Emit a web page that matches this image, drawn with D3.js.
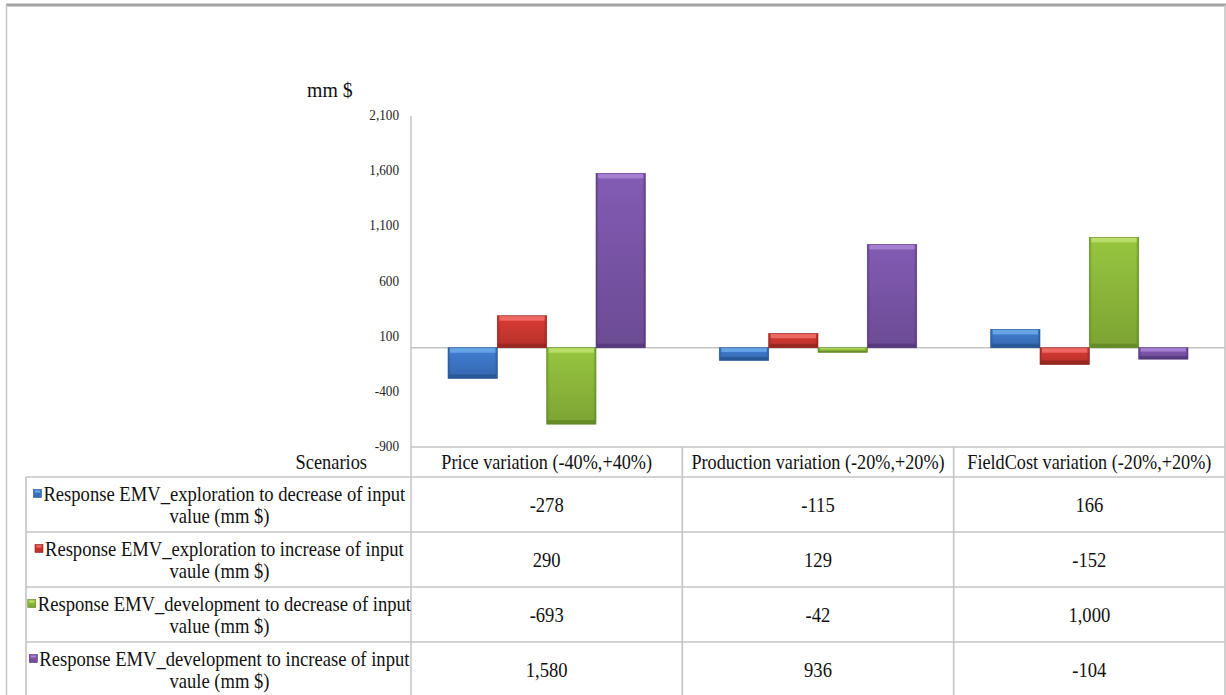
<!DOCTYPE html>
<html><head><meta charset="utf-8">
<script src="https://cdn.jsdelivr.net/npm/d3@7"></script>
<style>
html,body{margin:0;padding:0;background:#fff;}
svg{display:block;}
svg text{font-family:"Liberation Serif","DejaVu Serif",serif;}
</style></head>
<body>
<svg id="chart" width="1226" height="695"></svg>
<script>
// ---- data ----
const categories = ["Price variation (-40%,+40%)", "Production variation (-20%,+20%)", "FieldCost variation (-20%,+20%)"];
const seriesLine1 = [
  "Response EMV_exploration to decrease of input",
  "Response EMV_exploration to increase of input",
  "Response EMV_development to decrease of input",
  "Response EMV_development to increase of input"
];
const seriesLine2 = ["value (mm $)", "vaule (mm $)", "value (mm $)", "vaule (mm $)"];
const expDecrease = [-278, -115, 166];
const expIncrease = [290, 129, -152];
const devDecrease = [-693, -42, 1000];
const devIncrease = [1580, 936, -104];
const yTicks = [2100, 1600, 1100, 600, 100, -400, -900];
const yDomain = [-900, 2100];
const yTitle = "mm $";
const xTitle = "Scenarios";

const seriesValues = [expDecrease, expIncrease, devDecrease, devIncrease];
const seriesIds = ["s0", "s1", "s2", "s3"];
const palette = [
  {base:"#3b74c2", light:"#6aa8e8", dark:"#23518f"},
  {base:"#c8362f", light:"#ee6e66", dark:"#8c221d"},
  {base:"#8ab53a", light:"#bde06a", dark:"#5d8222"},
  {base:"#7853a5", light:"#a884d4", dark:"#4f3373"}
];
const FONT = "'Liberation Serif','Times New Roman','DejaVu Serif',serif";

const loc = d3.formatLocale({decimal:".", thousands:",", grouping:[3], currency:["$",""], minus:"-"});
const fmt = loc.format(",");

const svg = d3.select("#chart");
const defs = svg.append("defs");
palette.forEach((c, i) => {
  const g = defs.append("linearGradient").attr("id", "gv" + i).attr("x1", 0).attr("y1", 0).attr("x2", 0).attr("y2", 1);
  g.append("stop").attr("offset", "0%").attr("stop-color", d3.color(c.base).brighter(0.25));
  g.append("stop").attr("offset", "100%").attr("stop-color", d3.color(c.base).darker(0.3));
  const h = defs.append("linearGradient").attr("id", "gh" + i).attr("x1", 0).attr("y1", 0).attr("x2", 1).attr("y2", 0);
  h.append("stop").attr("offset", "0%").attr("stop-color", c.dark).attr("stop-opacity", 0.55);
  h.append("stop").attr("offset", "6%").attr("stop-color", c.dark).attr("stop-opacity", 0);
  h.append("stop").attr("offset", "94%").attr("stop-color", c.dark).attr("stop-opacity", 0);
  h.append("stop").attr("offset", "100%").attr("stop-color", c.dark).attr("stop-opacity", 0.6);
});

// text helper with horizontal compression
function T(parent, x, y, str, size, anchor, sx, fill) {
  const g = parent.append("g").attr("transform", `translate(${x},${y}) scale(${sx},1)`);
  return g.append("text").attr("text-anchor", anchor).attr("font-family", FONT)
    .attr("font-size", size).attr("fill", fill || "#111").text(str);
}

// layout
const plotL = 411, plotR = 1225, plotT = 116, plotB = 447;
const tableTop = 477, rowH = 55, tableL = 26, tableB = 695;
const lineCol = "#c4c4c4";

// outer frame
svg.append("line").attr("x1", 6).attr("x2", 1226).attr("y1", 5).attr("y2", 5).attr("stroke", "#a3a3a3").attr("stroke-width", 3);
svg.append("line").attr("x1", 6.5).attr("x2", 6.5).attr("y1", 5).attr("y2", 695).attr("stroke", "#c8c8c8").attr("stroke-width", 1.5);

const x0 = d3.scaleBand().domain(categories).range([plotL, plotR]).padding(0);
const bw = x0.bandwidth();
const x1 = d3.scaleBand().domain(seriesIds).range([bw * 0.75 / 5.5, bw - bw * 0.75 / 5.5]).padding(0);
const y = d3.scaleLinear().domain(yDomain).range([plotB, plotT]);

// y axis (labels only, no ticks)
const yAxis = svg.append("g").attr("transform", `translate(${plotL},0)`)
  .call(d3.axisLeft(y).tickValues(yTicks).tickSize(0).tickPadding(12).tickFormat(d => fmt(d)));
yAxis.select(".domain").remove();
const tickVals = [];
yAxis.selectAll(".tick").each(d => tickVals.push(d));
yAxis.selectAll(".tick").remove();
tickVals.forEach(d => T(yAxis, -12, y(d) + 4, fmt(d), 15, "end", 0.88, "#222"));

// axis line
svg.append("line").attr("x1", plotL).attr("x2", plotL).attr("y1", plotT).attr("y2", tableB).attr("stroke", lineCol).attr("stroke-width", 1.5);
// zero line
svg.append("line").attr("x1", plotL).attr("x2", plotR).attr("y1", y(0)).attr("y2", y(0)).attr("stroke", lineCol).attr("stroke-width", 1.5);

// bars
const barsG = svg.append("g");
categories.forEach((cat, ci) => {
  seriesIds.forEach((sid, si) => {
    const v = seriesValues[si][ci];
    const bx = x0(cat) + x1(sid), w = x1.bandwidth();
    const top = y(Math.max(0, v)), bot = y(Math.min(0, v));
    const h = bot - top;
    const c = palette[si];
    barsG.append("rect").attr("x", bx).attr("y", top).attr("width", w).attr("height", h).attr("fill", `url(#gv${si})`);
    barsG.append("rect").attr("x", bx).attr("y", top).attr("width", w).attr("height", h).attr("fill", `url(#gh${si})`);
    const bev = Math.min(5, h / 3);
    barsG.append("rect").attr("x", bx + 2).attr("y", top).attr("width", w - 4).attr("height", bev).attr("fill", c.light).attr("opacity", 0.9);
    barsG.append("rect").attr("x", bx + 1).attr("y", bot - bev * 0.8).attr("width", w - 2).attr("height", bev * 0.8).attr("fill", c.dark).attr("opacity", 0.7);
    barsG.append("rect").attr("x", bx).attr("y", top).attr("width", w).attr("height", h).attr("fill", "none").attr("stroke", c.dark).attr("stroke-width", 0.8).attr("stroke-opacity", 0.7);
  });
});

// titles
T(svg, 307, 97, yTitle, 22, "start", 0.9, "#111");
T(svg, 367, 469, xTitle, 20, "end", 0.92, "#111");

// table lines
const tl = svg.append("g").attr("stroke", lineCol).attr("stroke-width", 1.6);
tl.append("line").attr("x1", plotL).attr("x2", plotR).attr("y1", plotB).attr("y2", plotB);
for (let r = 0; r <= seriesIds.length; r++) {
  const yy = tableTop + r * rowH;
  if (yy < tableB) tl.append("line").attr("x1", tableL).attr("x2", plotR).attr("y1", yy).attr("y2", yy);
}
tl.append("line").attr("x1", tableL).attr("x2", tableL).attr("y1", tableTop).attr("y2", tableB);
categories.forEach((cat, ci) => {
  if (ci > 0) tl.append("line").attr("x1", x0(cat)).attr("x2", x0(cat)).attr("y1", plotB).attr("y2", tableB);
});
tl.append("line").attr("x1", plotR).attr("x2", plotR).attr("y1", 5).attr("y2", tableB);

// header
categories.forEach(cat => {
  T(svg, x0(cat) + bw / 2, 469, cat, 20, "middle", 0.91, "#111");
});

// rows
const sxT = 0.93, fsT = 20;
seriesIds.forEach((sid, si) => {
  const rc = tableTop + si * rowH + rowH / 2;
  const b1 = rc - 4, b2 = rc + 18;
  const cellC = (tableL + plotL) / 2 + 1;
  const probe = svg.append("text").attr("font-family", FONT).attr("font-size", fsT).text(seriesLine1[si]);
  const len = probe.node().getComputedTextLength() * sxT;
  probe.remove();
  const total = len + 10;
  const start = cellC - total / 2;
  const c = palette[si];
  svg.append("rect").attr("x", start).attr("y", b1 - 11).attr("width", 8).attr("height", 8)
    .attr("fill", `url(#gv${si})`).attr("stroke", c.dark).attr("stroke-width", 0.6);
  svg.append("rect").attr("x", start + 1.5).attr("y", b1 - 10).attr("width", 5).attr("height", 2).attr("fill", c.light);
  T(svg, start + 10, b1, seriesLine1[si], fsT, "start", sxT, "#111");
  T(svg, cellC, b2, seriesLine2[si], fsT, "middle", sxT, "#111");
  categories.forEach((cat, ci) => {
    T(svg, x0(cat) + bw / 2, rc + 7, fmt(seriesValues[si][ci]), fsT, "middle", sxT, "#111");
  });
});
</script>
</body></html>
